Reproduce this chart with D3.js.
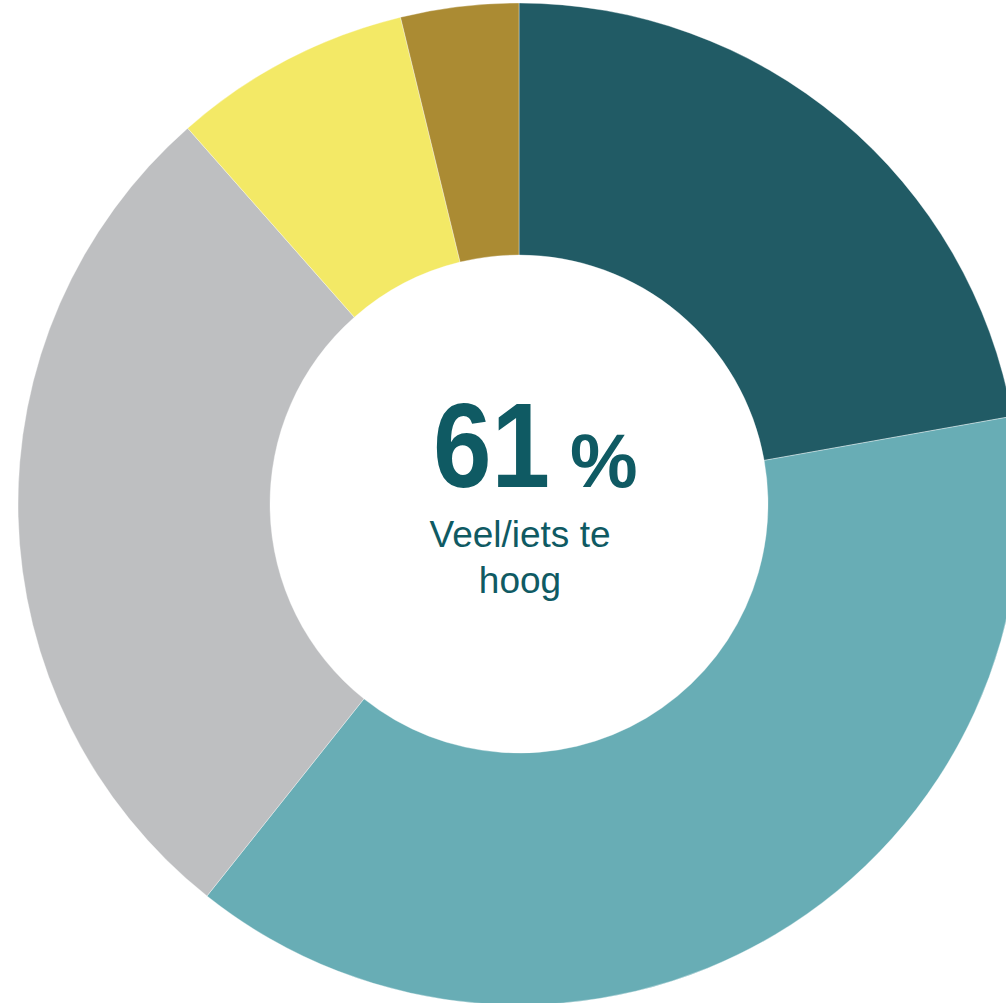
<!DOCTYPE html>
<html lang="nl">

<head>
  <meta charset="utf-8">
  <title>Donut</title>
  <script src="https://d3js.org/d3.v7.min.js"></script>
  <style>
    html, body {
      margin: 0;
      padding: 0;
      background: #ffffff;
    }
    svg {
      display: block;
    }
  </style>
</head>

<body>
  <div id="vis"></div>

  <script>
    // waarden (in %)
    var categorieen = ["Veel te hoog", "Iets te hoog", "Precies goed", "Iets te laag", "Weet niet"];
    var waarden = [22.2, 38.5, 27.8, 7.7, 3.8];
    var kleuren = ["#215b65", "#68adb5", "#bebfc1", "#f3e966", "#ab8b33"];
    var totaalTekst = "61";
    var labelRegels = ["Veel/iets te", "hoog"];

    var breedte = 1006, hoogte = 1003;
    var cx = 519, cy = 504;
    var rBuiten = 501, rBinnen = 249;

    var svg = d3.select("#vis")
      .append("svg")
      .attr("width", breedte)
      .attr("height", hoogte);

    var g = svg.append("g")
      .attr("transform", "translate(" + cx + "," + cy + ")");

    var kleur = d3.scaleOrdinal()
      .domain(categorieen)
      .range(kleuren);

    var pie = d3.pie()
      .sort(null)
      .value(d => d.waarde);

    var arc = d3.arc()
      .innerRadius(rBinnen)
      .outerRadius(rBuiten);

    var dados = categorieen.map((c, i) => ({ cat: c, waarde: waarden[i] }));

    g.selectAll("path.slice")
      .data(pie(dados))
      .enter()
      .append("path")
      .attr("class", "slice")
      .attr("d", arc)
      .attr("fill", d => kleur(d.data.cat))
      .attr("stroke", "#ffffff")
      .attr("stroke-width", 0.6)
      .attr("stroke-opacity", 0.6);

    // tekst in het midden
    var tekstKleur = "#0f5a63";

    g.append("text")
      .attr("x", -86)
      .attr("y", -17)
      .attr("fill", tekstKleur)
      .attr("textLength", 117)
      .attr("lengthAdjust", "spacingAndGlyphs")
      .style("font-family", "'Liberation Sans', Arial, sans-serif")
      .style("font-weight", "bold")
      .style("font-size", "120px")
      .text(totaalTekst);

    g.append("text")
      .attr("x", 51)
      .attr("y", -17)
      .attr("fill", tekstKleur)
      .style("font-family", "'Liberation Sans', Arial, sans-serif")
      .style("font-weight", "bold")
      .style("font-size", "76px")
      .text("%");

    g.selectAll("text.label")
      .data(labelRegels)
      .enter()
      .append("text")
      .attr("class", "label")
      .attr("x", 1)
      .attr("y", (d, i) => 43 + i * 46)
      .attr("text-anchor", "middle")
      .attr("fill", tekstKleur)
      .style("font-family", "'Liberation Sans', Arial, sans-serif")
      .style("font-size", "37px")
      .text(d => d);
  </script>
</body>

</html>
